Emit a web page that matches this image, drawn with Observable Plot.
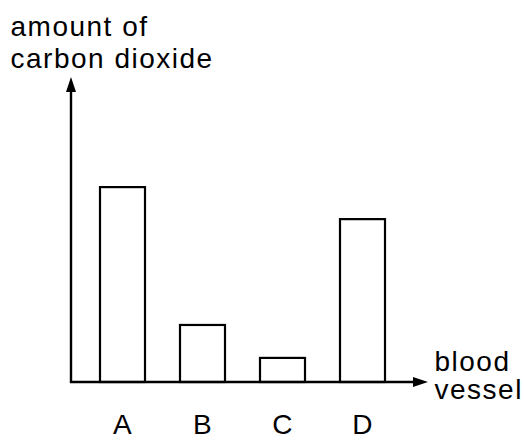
<!DOCTYPE html>
<html><head><meta charset="utf-8">
<script src="https://cdn.jsdelivr.net/npm/d3@7"></script>
<script src="https://cdn.jsdelivr.net/npm/@observablehq/plot@0.6"></script>
<style>body{margin:0;background:#fff}</style>
</head><body><div id="chart"></div>
<script>
const vessels = ["A", "B", "C", "D"];
const co2 = [6.39, 1.87, 0.79, 5.34];
const yLabel = "amount of\ncarbon dioxide";
const xLabel = "blood\nvessel";
const data = vessels.map((v, i) => ({vessel: v, co2: co2[i]}));

function axes(index, scales, values, dim) {
  const g = d3.create("svg:g").attr("fill", "black").attr("stroke", "black");
  const x0 = dim.marginLeft, x1 = dim.width - dim.marginRight;
  const yb = scales.y(0), yt = dim.marginTop;
  g.append("line").attr("x1", x0).attr("x2", x0).attr("y1", yb + 1).attr("y2", yt + 12).attr("stroke-width", 2.4);
  g.append("path").attr("d", `M${x0},${yt}L${x0 - 5},${yt + 15}L${x0 + 5},${yt + 15}Z`).attr("stroke", "none");
  g.append("line").attr("x1", x0 - 1).attr("x2", x1 - 12).attr("y1", yb).attr("y2", yb).attr("stroke-width", 2.4);
  g.append("path").attr("d", `M${x1},${yb}L${x1 - 15},${yb - 5}L${x1 - 15},${yb + 5}Z`).attr("stroke", "none");
  return g.node();
}

const chart = Plot.plot({
  width: 524,
  height: 440,
  marginLeft: 71,
  marginRight: 96,
  marginTop: 77,
  marginBottom: 58,
  x: {domain: vessels, range: [71, 414], paddingInner: 0.44, paddingOuter: 0.355},
  y: {domain: [0, 10], axis: null},
  style: {fontFamily: "'Liberation Sans', Arial, sans-serif", fontSize: "28px", letterSpacing: "1.5px", background: "white", color: "black", overflow: "visible"},
  marks: [
    Plot.barY(data, {x: "vessel", y: "co2", fill: "white", stroke: "black", strokeWidth: 2.2}),
    axes,
    Plot.axisX({tickSize: 0, tickPadding: 32, fontSize: 28, label: null}),
    Plot.text([yLabel], {frameAnchor: "top-left", textAnchor: "start", lineAnchor: "bottom", dx: -61, dy: -10, lineHeight: 1.143, fontSize: 28, fill: "black"}),
    Plot.text([xLabel], {frameAnchor: "bottom-right", textAnchor: "start", lineAnchor: "bottom", dx: 6, dy: 16, lineHeight: 1, fontSize: 28, fill: "black"})
  ]
});
document.getElementById("chart").append(chart);
</script>
</body></html>
